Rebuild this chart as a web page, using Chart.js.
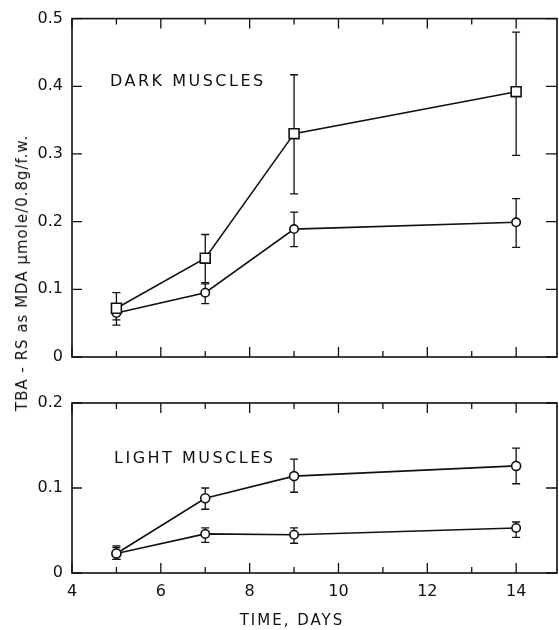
<!DOCTYPE html>
<html><head><meta charset="utf-8">
<script src="https://cdn.jsdelivr.net/npm/chart.js@4"></script>
<style>
html,body{margin:0;padding:0;background:#fff;}
body{width:559px;height:630px;position:relative;overflow:hidden;font-family:"DejaVu Sans",sans-serif;color:#111;}
#c1{position:absolute;left:0;top:0;}
#c2{position:absolute;left:0;top:380px;}
.t{position:absolute;white-space:nowrap;}
.ytitle{left:22px;top:273px;transform:translate(-50%,-50%) rotate(-90deg);font-size:15px;letter-spacing:1px;}
.xtitle{left:292px;top:620px;transform:translate(-50%,-50%);font-size:15px;letter-spacing:2px;}
.panel{font-size:16px;letter-spacing:2.5px;transform:translateY(-50%);}
</style></head>
<body>
<canvas id="c1" width="559" height="380"></canvas>
<canvas id="c2" width="559" height="250"></canvas>
<div class="t ytitle">TBA - RS as MDA µmole/0.8g/f.w.</div>
<div class="t xtitle">TIME, DAYS</div>
<div class="t panel" style="left:110px;top:80px;">DARK MUSCLES</div>
<div class="t panel" style="left:114px;top:457px;">LIGHT MUSCLES</div>
<script>
const days = [5, 7, 9, 14];
const xTicks = [4, 6, 8, 10, 12, 14];
const darkTicks = [0, 0.1, 0.2, 0.3, 0.4, 0.5];
const lightTicks = [0, 0.1, 0.2];

const darkSquare   = [0.072, 0.146, 0.330, 0.392];
const darkSquareHi = [0.095, 0.181, 0.417, 0.480];
const darkSquareLo = [0.055, 0.110, 0.241, 0.298];
const darkCircle   = [0.065, 0.095, 0.189, 0.199];
const darkCircleHi = [0.075, 0.108, 0.214, 0.234];
const darkCircleLo = [0.047, 0.079, 0.163, 0.162];

const lightUpper   = [0.023, 0.088, 0.114, 0.126];
const lightUpperHi = [0.032, 0.100, 0.134, 0.147];
const lightUpperLo = [0.016, 0.075, 0.095, 0.105];
const lightLower   = [0.023, 0.046, 0.045, 0.053];
const lightLowerHi = [0.030, 0.053, 0.053, 0.060];
const lightLowerLo = [0.016, 0.036, 0.035, 0.042];

const INK = '#111';
const FONT = {family: '"DejaVu Sans", sans-serif', size: 16};

const errorBars = {
  id: 'errorBars',
  beforeDatasetsDraw(chart) {
    const ctx = chart.ctx, xs = chart.scales.x, ys = chart.scales.y;
    ctx.save();
    ctx.strokeStyle = INK; ctx.lineWidth = 1.3;
    chart.data.datasets.forEach(ds => {
      ds.data.forEach((p, i) => {
        const x = xs.getPixelForValue(p.x);
        const yh = ys.getPixelForValue(ds.errHi[i]);
        const yl = ys.getPixelForValue(ds.errLo[i]);
        ctx.beginPath();
        ctx.moveTo(x, yh); ctx.lineTo(x, yl);
        ctx.moveTo(x - 4, yh); ctx.lineTo(x + 4, yh);
        ctx.moveTo(x - 4, yl); ctx.lineTo(x + 4, yl);
        ctx.stroke();
      });
    });
    ctx.restore();
  }
};

const frameTicks = {
  id: 'frameTicks',
  afterDraw(chart) {
    const ctx = chart.ctx, a = chart.chartArea, xs = chart.scales.x, ys = chart.scales.y;
    ctx.save();
    ctx.strokeStyle = INK; ctx.lineWidth = 1.6;
    ctx.strokeRect(a.left, a.top, a.right - a.left, a.bottom - a.top);
    ctx.lineWidth = 1.3;
    ctx.beginPath();
    for (let v = Math.ceil(xs.min); v <= xs.max; v++) {
      const x = xs.getPixelForValue(v);
      const len = (v % 2 === 0) ? 10 : 6;
      ctx.moveTo(x, a.bottom); ctx.lineTo(x, a.bottom - len);
      ctx.moveTo(x, a.top); ctx.lineTo(x, a.top + len);
    }
    ys.ticks.forEach(t => {
      const y = ys.getPixelForValue(t.value);
      ctx.moveTo(a.left, y); ctx.lineTo(a.left + 10, y);
      ctx.moveTo(a.right, y); ctx.lineTo(a.right - 11, y);
    });
    ctx.stroke();
    ctx.restore();
  }
};

function mkDataset(vals, hi, lo, style, r) {
  return {
    data: days.map((d, i) => ({x: d, y: vals[i]})),
    errHi: hi, errLo: lo,
    borderColor: INK, borderWidth: 1.6,
    pointStyle: style, pointRadius: r, pointHoverRadius: r,
    pointBackgroundColor: '#fff', pointBorderColor: INK, pointBorderWidth: 1.6,
    tension: 0, fill: false
  };
}

function mkOptions(yMax, yTicks, showX, padTop, padBottom, xHeight) {
  return {
    responsive: false, animation: false, events: [],
    layout: {autoPadding: false, padding: {left: 0, right: 2, top: padTop, bottom: padBottom}},
    plugins: {legend: {display: false}, tooltip: {enabled: false}},
    scales: {
      x: {
        type: 'linear', min: 4, max: 14.92, display: showX,
        grid: {display: false, drawTicks: false}, border: {display: false},
        afterBuildTicks: s => { s.ticks = xTicks.map(v => ({value: v})); },
        ticks: {color: INK, font: FONT, padding: 9, maxRotation: 0, autoSkip: false},
        afterFit: s => { if (xHeight) s.height = xHeight; }
      },
      y: {
        type: 'linear', min: 0, max: yMax,
        grid: {display: false, drawTicks: false}, border: {display: false},
        afterBuildTicks: s => { s.ticks = yTicks.map(v => ({value: v})); },
        ticks: {color: INK, font: FONT, padding: 9, autoSkip: false, callback: v => String(v)},
        afterFit: s => { s.width = 72; }
      }
    }
  };
}

new Chart(document.getElementById('c1'), {
  type: 'line',
  data: {datasets: [
    mkDataset(darkSquare, darkSquareHi, darkSquareLo, 'rect', 7),
    mkDataset(darkCircle, darkCircleHi, darkCircleLo, 'circle', 4.2)
  ]},
  options: mkOptions(0.5, darkTicks, false, 15, 23, 0),
  plugins: [errorBars, frameTicks]
});

new Chart(document.getElementById('c2'), {
  type: 'line',
  data: {datasets: [
    mkDataset(lightUpper, lightUpperHi, lightUpperLo, 'circle', 4.5),
    mkDataset(lightLower, lightLowerHi, lightLowerLo, 'circle', 4.2)
  ]},
  options: mkOptions(0.2, lightTicks, true, 23, 0, 57),
  plugins: [errorBars, frameTicks]
});
</script>
</body></html>
